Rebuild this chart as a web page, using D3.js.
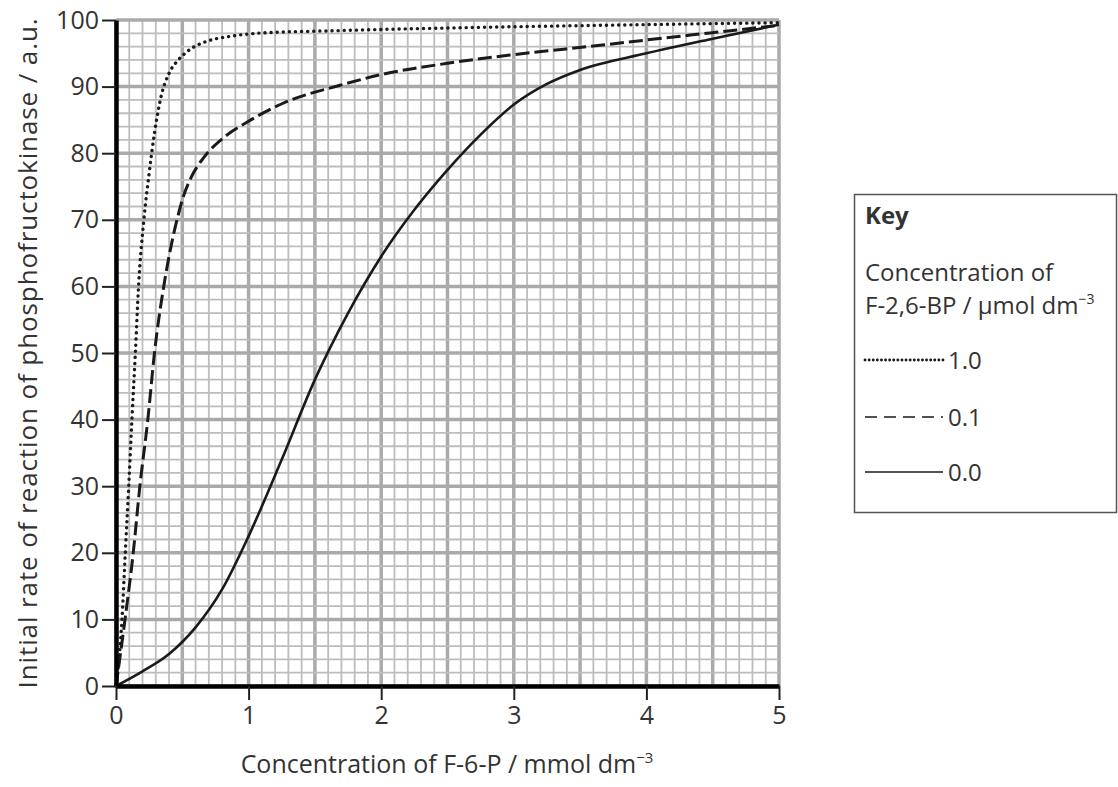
<!DOCTYPE html>
<html>
<head>
<meta charset="utf-8">
<script src="https://cdn.jsdelivr.net/npm/d3@7"></script>
<style>
  body { margin: 0; background: #fff; }
  text { font-family: "Open Sans", "Noto Sans", sans-serif; fill: #333; }
</style>
</head>
<body>
<div id="chart"></div>
<script>
// F-6-P concentration (mmol dm-3) and rate (a.u.) for each F-2,6-BP level
var dotX = [0, 0.045, 0.07, 0.096, 0.12, 0.146, 0.17, 0.21, 0.25, 0.29, 0.34, 0.4, 0.47, 0.56, 0.7, 0.85, 1.06, 1.66, 2.5, 3.65, 5];
var dotY = [0, 10, 20, 30, 40, 50, 60, 70, 77, 83, 88.5, 92, 94, 95.6, 96.9, 97.5, 98, 98.4, 98.8, 99.2, 99.6];

var dashX = [0, 0.068, 0.13, 0.18, 0.24, 0.29, 0.36, 0.42, 0.46, 0.5, 0.57, 0.66, 0.81, 1, 1.26, 1.69, 2, 2.5, 3, 3.65, 4, 4.5, 5];
var dashY = [0, 10, 20, 30, 40, 50, 60, 66.5, 70, 73, 76.5, 79.3, 82.3, 84.8, 87.5, 90.2, 91.8, 93.5, 94.8, 96.2, 97, 98.1, 99.2];

var solidX = [0, 0.2, 0.4, 0.6, 0.8, 1, 1.25, 1.5, 1.75, 2, 2.25, 2.5, 2.75, 3, 3.25, 3.5, 4, 4.5, 5];
var solidY = [0, 2.2, 4.8, 8.8, 14.5, 22.5, 34, 46, 56, 64.5, 71.5, 77.5, 82.8, 87.3, 90.4, 92.5, 95, 97.2, 99.3];

var xTicks = [0, 1, 2, 3, 4, 5];
var yTicks = [0, 10, 20, 30, 40, 50, 60, 70, 80, 90, 100];
var legendLabels = ["1.0", "0.1", "0.0"];

var svgWidth = 1118;
var svgHeight = 787;

var svg = d3.select("#chart")
    .append("svg")
    .attr("width", svgWidth)
    .attr("height", svgHeight);

var x = d3.scaleLinear().domain([0, 5]).range([116, 779]);
var y = d3.scaleLinear().domain([0, 100]).range([686, 20]);

// graph paper grid: minor every 0.1 / 2, major every 0.5 / 10
var grid = svg.append("g");
d3.range(0, 51).forEach(function (i) {
    grid.append("line")
        .attr("x1", x(i / 10)).attr("x2", x(i / 10))
        .attr("y1", y(0)).attr("y2", y(100))
        .attr("stroke", i % 5 === 0 ? "#aaa" : "#bdbdbd")
        .attr("stroke-width", i % 5 === 0 ? 3.5 : 1.8);
});
d3.range(0, 51).forEach(function (i) {
    grid.append("line")
        .attr("x1", x(0)).attr("x2", x(5))
        .attr("y1", y(i * 2)).attr("y2", y(i * 2))
        .attr("stroke", i % 5 === 0 ? "#aaa" : "#bdbdbd")
        .attr("stroke-width", i % 5 === 0 ? 3.5 : 1.8);
});

// curves
var line = d3.line()
    .x(d => x(d[0]))
    .y(d => y(d[1]))
    .curve(d3.curveMonotoneX);

var series = [
    { xs: dotX, ys: dotY, dash: "0.1,6", width: 3.4, cap: "round" },
    { xs: dashX, ys: dashY, dash: "14,5", width: 3, cap: "butt" },
    { xs: solidX, ys: solidY, dash: null, width: 2.6, cap: "butt" }
];

series.forEach(function (s) {
    svg.append("path")
        .datum(s.xs.map((v, i) => [v, s.ys[i]]))
        .attr("d", line)
        .attr("fill", "none")
        .attr("stroke", "#1a1a1a")
        .attr("stroke-width", s.width)
        .attr("stroke-linecap", s.cap)
        .attr("stroke-dasharray", s.dash);
});

// axes
var leftAxis = d3.axisLeft(y).tickValues(yTicks).tickSize(14).tickSizeOuter(0).tickPadding(3);
var bottomAxis = d3.axisBottom(x).tickValues(xTicks).tickFormat(d3.format("d"))
    .tickSize(14).tickSizeOuter(0).tickPadding(6);

var gy = svg.append("g")
    .attr("transform", `translate(${x(0)},0)`)
    .call(leftAxis);
var gx = svg.append("g")
    .attr("transform", `translate(0,${y(0)})`)
    .call(bottomAxis);

[gx, gy].forEach(function (g) {
    g.select(".domain").attr("stroke", "#000").attr("stroke-width", 4.5);
    g.selectAll(".tick line").attr("stroke", "#222").attr("stroke-width", 2);
    g.selectAll(".tick text")
        .attr("fill", "#333")
        .style("font-size", "25px")
        .style("font-family", "'Open Sans', sans-serif");
});

// axis labels
svg.append("text")
    .attr("transform", `translate(37, ${y(50)}) rotate(-90)`)
    .attr("text-anchor", "middle")
    .style("font-size", "26px")
    .style("letter-spacing", "0.9px")
    .text("Initial rate of reaction of phosphofructokinase / a.u.");

var xl = svg.append("text")
    .attr("x", 447)
    .attr("y", 773)
    .attr("text-anchor", "middle")
    .style("font-size", "25px");
xl.append("tspan").text("Concentration of F-6-P / mmol dm");
xl.append("tspan").attr("dy", -10).style("font-size", "15px").text("\u22123");

// key
var key = svg.append("g");
key.append("rect")
    .attr("x", 854.5).attr("y", 194.5)
    .attr("width", 262).attr("height", 318)
    .attr("fill", "#fff")
    .attr("stroke", "#555")
    .attr("stroke-width", 1.5);

key.append("text")
    .attr("x", 865).attr("y", 224)
    .style("font-size", "24px")
    .style("font-weight", "bold")
    .text("Key");
key.append("text")
    .attr("x", 865).attr("y", 281)
    .style("font-size", "24px")
    .text("Concentration of");
var kt = key.append("text")
    .attr("x", 865).attr("y", 314)
    .style("font-size", "24px");
kt.append("tspan").text("F-2,6-BP / \u03bcmol dm");
kt.append("tspan").attr("dy", -10).style("font-size", "14px").text("\u22123");

var legendStyles = [
    { dash: "0.1,4", width: 2.8, cap: "round" },
    { dash: "12,7", width: 1.6, cap: "butt" },
    { dash: null, width: 1.4, cap: "butt" }
];
var legendY = [360, 417, 472];

legendLabels.forEach(function (lab, i) {
    key.append("line")
        .attr("x1", 865).attr("x2", 943)
        .attr("y1", legendY[i]).attr("y2", legendY[i])
        .attr("stroke", "#1a1a1a")
        .attr("stroke-width", legendStyles[i].width)
        .attr("stroke-linecap", legendStyles[i].cap)
        .attr("stroke-dasharray", legendStyles[i].dash);
    key.append("text")
        .attr("x", 948).attr("y", legendY[i] + 9)
        .style("font-size", "24px")
        .text(lab);
});
</script>
</body>
</html>
